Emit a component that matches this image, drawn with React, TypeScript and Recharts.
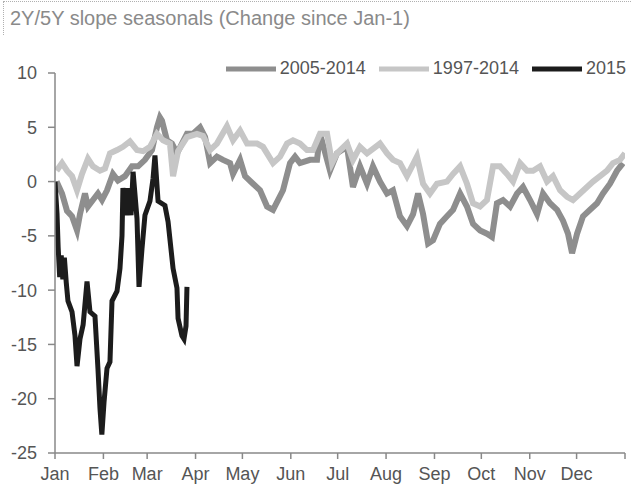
import React from "react";
import { LineChart, Line, XAxis, YAxis } from "recharts";

const monthLabels = ["Jan", "Feb", "Mar", "Apr", "May", "Jun", "Jul", "Aug", "Sep", "Oct", "Nov", "Dec", ""];
const monthStartDays = [0, 31, 59, 90, 120, 151, 181, 212, 243, 273, 304, 334, 365];
const yTicks = [-25, -20, -15, -10, -5, 0, 5, 10];

// 2005-2014 seasonal
const avg0514Days = [
  1, 4.5, 7.7, 10.9, 14.1, 16, 19.2, 21.1, 24.3, 27.5, 30.1, 33.3, 37.1, 40.3, 44.8, 49.3, 53.2, 57.6,
  62.1, 65.3, 67.2, 68.5, 71.7, 74.9, 78.1, 81.3, 84.5, 88.4, 92.9, 96.1, 99.3, 103.7, 107.6, 112.1, 114,
  118.5, 121.7, 126.8, 131.3, 135.8, 139.6, 142.8, 146, 150.5, 153.7, 156.9, 163.3, 167.8, 169.7, 176.1,
  180.6, 187, 190.8, 195.3, 199.8, 203.6, 208.1, 212.6, 216.4, 220.9, 225.4, 229.3, 232.5, 235.7, 238.9,
  242.1, 246.5, 251, 254.9, 259.4, 263.8, 267.7, 272.2, 276.6, 279.8, 283, 286.9, 291.4, 295.9, 299.7,
  304.2, 308.7, 312.5, 317, 321.5, 325.3, 328.5, 331.1, 334.3, 338.1, 342.6, 347.1, 350.9, 355.4, 359.9, 363.7,
];
const avg0514Values = [
  0, -1.1, -2.7, -3.2, -4.5, -3, -1.1, -2.3, -1.7, -1.1, -1.7, -0.8, 0.7, 0.1, 0.5, 1.4, 1.4, 2,
  2.9, 5, 5.9, 5.6, 3.8, 3.5, 2.6, 3.5, 4.4, 4.4, 5, 4.1, 1.7, 2.3, 2, 1.7, 0.7,
  2, 0.5, -0.2, -0.8, -2.3, -2.6, -1.7, -0.8, 1.7, 2.3, 1.7, 2, 2, 4.4, 1,
  2.6, 3.2, -0.5, 1.4, -0.2, 1.4, 0, -1.1, -0.8, -3.2, -4.1, -3, -1.1, -3, -5.7,
  -5.4, -3.9, -3.2, -2.6, -1.1, -2.3, -3.9, -4.5, -4.8, -5.1, -2, -1.7, -2.3, -1.1, -0.5,
  -1.7, -3, -1.1, -2, -2.6, -3.6, -4.8, -6.6, -4.8, -3.2, -2.6, -2, -1.1, -0.2, 1, 1.7,
];

// 1997-2014 seasonal
const avg9714Days = [
  1, 4.5, 7.7, 10.9, 14.1, 17.3, 21.1, 24.3, 28.8, 32, 35.2, 39.7, 43.5, 48, 52.5, 56.4, 60.8, 65.3,
  69.2, 73.6, 75.6, 78.8, 84.5, 90.9, 94.8, 99.3, 103.7, 110.1, 114, 118.5, 123, 129.4, 133.2, 139.6,
  144.1, 148.6, 152.4, 156.9, 161.4, 165.2, 169.7, 174.2, 177.4, 180.6, 187, 190.8, 195.3, 199.8, 208.1,
  212.6, 216.4, 220.9, 225.4, 231.8, 235.7, 240.1, 244.6, 251, 254.9, 259.4, 263.8, 267.7, 272.2, 276.6,
  280.5, 285, 289.4, 293.3, 297.8, 302.3, 306.1, 310.6, 315.1, 318.9, 323.4, 327.9, 331.7, 336.2, 340.7,
  344.5, 349, 353.5, 357.3, 361.8, 365,
];
const avg9714Values = [
  1, 1.7, 1, 0.5, -0.8, 0.7, 2.1, 1.4, 1, 1.2, 2.6, 2.9, 3.2, 3.7, 2.9, 2.8, 3.2, 4.4,
  3.8, 3.5, 0.5, 2.8, 4.1, 4.4, 4.2, 2.9, 3.5, 5.1, 3.8, 4.7, 3.5, 3.5, 3.2, 1.7,
  2.3, 3.5, 3.8, 3.5, 2.9, 2.9, 4.4, 4.4, 1.7, 2.6, 3.5, 2, 3.2, 2.6, 3.5,
  2.6, 2, 1.7, 0.5, 2.3, -0.2, -1.1, -0.2, 0, 0.7, 1.4, -0.2, -2, -2.3, -1.7,
  1.4, 1.4, 0.7, 0, 1.7, 1, 1, 1.4, 0, 0.5, -0.8, -1.4, -1.7, -1.1, -0.5,
  0, 0.5, 1, 1.7, 2, 2.6,
];

// 2015 year to date
const y2015Days = [
  0, 1.3, 2, 3, 4, 5, 6, 7.2, 8.3, 10.9, 12.8, 14.1, 16, 18, 20.5, 22.4, 25.6, 27.5, 28.8, 30, 31.4, 33.3,
  35.2, 36.5, 39.7, 41.6, 42.9, 43.5, 45.5, 46.7, 48.7, 50, 52.5, 53.8, 55.7, 57.6, 60.8, 62.8, 64, 66,
  70.4, 72.4, 75.6, 78.1, 78.8, 81.3, 82.6, 83.9, 84.5,
];
const y2015Values = [
  0, -3, -6, -8.8, -6.8, -9, -7, -9.3, -11, -12, -14.2, -17, -14.5, -13.2, -9.2, -12, -12.4, -17.2, -20.9,
  -23.3, -20.3, -17.2, -16.6, -11, -10.1, -8, -5, -0.6, -3.1, -0.6, -3.1, 0.9, -3.4, -9.7, -6.2, -3.1, -1.8,
  0.3, 2.4, -1.8, -2.2, -3.7, -8, -9.8, -12.6, -14.2, -14.5, -13.3, -9.7,
];

const toPoints = (days: number[], values: number[]) =>
  days.map((d, i) => ({ day: d, value: values[i] }));

const seriesList = [
  { name: "2005-2014", color: "#8e8e8e", width: 6, points: toPoints(avg0514Days, avg0514Values) },
  { name: "1997-2014", color: "#c6c6c6", width: 6, points: toPoints(avg9714Days, avg9714Values) },
  { name: "2015", color: "#1c1c1c", width: 5, points: toPoints(y2015Days, y2015Values) },
];

const font = "'Liberation Sans', Arial, sans-serif";

const App: React.FC = () => {
  return (
    <div style={{ position: "absolute", left: 0, top: 0, width: 632, height: 491, background: "#fff" }}>
      <div
        style={{
          position: "absolute",
          left: 3,
          top: 1,
          width: 640,
          height: 34,
          borderTop: "1px dotted #b0b0b0",
          borderLeft: "1px dotted #b0b0b0",
          fontFamily: font,
          fontSize: 20,
          color: "#8a8a8a",
          paddingLeft: 6,
          paddingTop: 5,
          boxSizing: "border-box",
          whiteSpace: "nowrap",
        }}
      >
        2Y/5Y slope seasonals (Change since Jan-1)
      </div>
      <div
        style={{
          position: "absolute",
          top: 58,
          right: 6,
          display: "flex",
          alignItems: "center",
          fontFamily: font,
          fontSize: 18,
          color: "#555",
          zIndex: 2,
        }}
      >
        {seriesList.map((s, i) => (
          <div key={s.name} style={{ display: "flex", alignItems: "center", marginLeft: i === 0 ? 0 : 13 }}>
            <svg width={50} height={10}>
              <line x1={0} y1={5} x2={50} y2={5} stroke={s.color} strokeWidth={5} />
            </svg>
            <span style={{ marginLeft: 4 }}>{s.name}</span>
          </div>
        ))}
      </div>
      <LineChart width={632} height={491} margin={{ top: 73, right: 7, left: 10, bottom: 8 }}>
        <XAxis
          dataKey="day"
          type="number"
          domain={[0, 365]}
          ticks={monthStartDays}
          tickFormatter={(v: number) => monthLabels[monthStartDays.indexOf(v)]}
          allowDataOverflow
          height={30}
          stroke="#888"
          strokeWidth={1.5}
          tickSize={6}
          tickMargin={8}
          interval={0}
          tick={{ fontSize: 18, fill: "#555", fontFamily: font }}
        />
        <YAxis
          type="number"
          domain={[-25, 10]}
          ticks={yTicks}
          width={45}
          stroke="#888"
          strokeWidth={1.5}
          tickSize={7}
          tickMargin={11}
          interval={0}
          tick={{ fontSize: 18, fill: "#555", fontFamily: font }}
        />
        {seriesList.map((s) => (
          <Line
            key={s.name}
            data={s.points}
            dataKey="value"
            name={s.name}
            type="linear"
            stroke={s.color}
            strokeWidth={s.width}
            dot={false}
            isAnimationActive={false}
          />
        ))}
      </LineChart>
    </div>
  );
};

export default App;
